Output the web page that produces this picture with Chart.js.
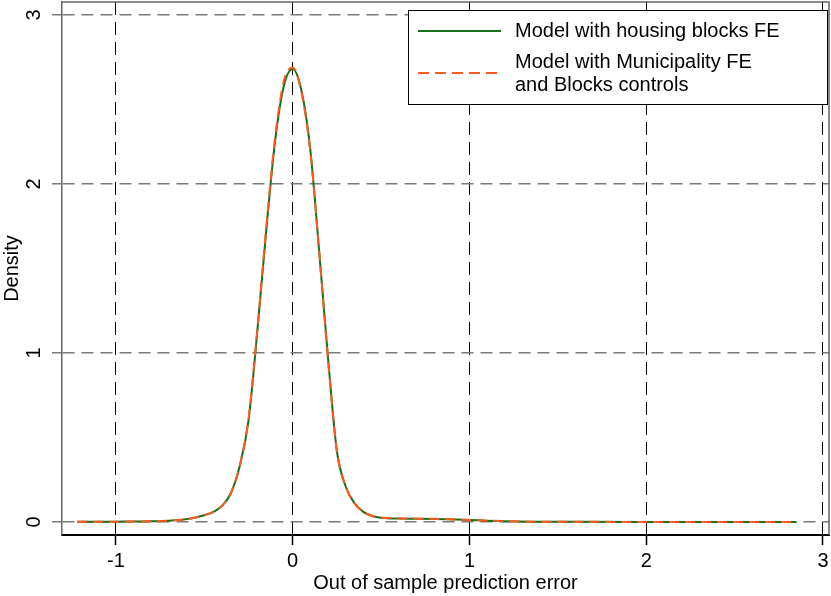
<!DOCTYPE html>
<html>
<head>
<meta charset="utf-8">
<script src="https://cdn.jsdelivr.net/npm/chart.js@4.4.1/dist/chart.umd.min.js"></script>
<style>
  html, body { margin: 0; padding: 0; background: #fff; }
</style>
</head>
<body>
<canvas id="density" width="831" height="596"></canvas>
<script>
// prediction error grid (x) and kernel density estimates
var errorGrid = [-1.22, -1.0, -0.8, -0.7, -0.6, -0.5, -0.45, -0.4, -0.35, -0.3, -0.25, -0.2, -0.15, -0.1, -0.05, 0, 0.05, 0.1, 0.15, 0.2, 0.25, 0.3, 0.35, 0.4, 0.45, 0.5, 0.6, 0.8, 1.0, 1.1, 1.2, 1.35, 1.6, 2.0, 2.5, 2.85];
var housingFE = [0.001, 0.002, 0.004, 0.008, 0.017, 0.04, 0.058, 0.095, 0.17, 0.33, 0.6, 1.13, 1.72, 2.25, 2.58, 2.68, 2.55, 2.2, 1.6, 0.97, 0.42, 0.21, 0.11, 0.06, 0.035, 0.025, 0.02, 0.018, 0.012, 0.008, 0.005, 0.002, 0.001, 0.0005, 0.0003, 0.0002];
var municipalityFE = [0.001, 0.002, 0.004, 0.008, 0.016, 0.04, 0.058, 0.096, 0.17, 0.33, 0.61, 1.14, 1.74, 2.27, 2.61, 2.69, 2.54, 2.19, 1.6, 0.96, 0.42, 0.21, 0.11, 0.06, 0.035, 0.026, 0.021, 0.019, 0.012, 0.008, 0.005, 0.002, 0.001, 0.0005, 0.0003, 0.0002];
var seriesNames = ['Model with housing blocks FE', 'Model with Municipality FE and Blocks controls'];
var legendLines = [['Model with housing blocks FE'], ['Model with Municipality FE', 'and Blocks controls']];
var xTicks = [-1, 0, 1, 2, 3];
var yTicks = [0, 1, 2, 3];

var FONT = "'Liberation Sans', Arial, sans-serif";
var GREEN = '#1b6e1b';
var ORANGE = '#ff5a1f';

function toPoints(ys) {
  return errorGrid.map(function (x, i) { return { x: x, y: ys[i] }; });
}

var stataFrame = {
  id: 'stataFrame',
  afterDraw: function (chart) {
    var a = chart.chartArea;
    var ctx = chart.ctx;
    ctx.save();
    // top and right frame lines
    ctx.strokeStyle = '#666';
    ctx.lineWidth = 1.5;
    ctx.beginPath();
    ctx.moveTo(a.left, a.top);
    ctx.lineTo(a.right, a.top);
    ctx.lineTo(a.right, a.bottom);
    ctx.stroke();

    // legend box
    var bx = a.right - 421, by = a.top + 8, bw = 419, bh = 94;
    ctx.fillStyle = '#fff';
    ctx.fillRect(bx, by, bw, bh);
    ctx.strokeStyle = '#000';
    ctx.lineWidth = 1;
    ctx.strokeRect(bx + 0.5, by + 0.5, bw, bh);

    ctx.font = '20px ' + FONT;
    ctx.textBaseline = 'middle';
    ctx.fillStyle = '#000';
    var rowY = [by + 21, by + 52];
    var styles = [{ c: GREEN, d: [] }, { c: ORANGE, d: [11, 6] }];
    legendLines.forEach(function (lines, i) {
      var cy = lines.length > 1 ? rowY[i] + 11 : rowY[i];
      ctx.strokeStyle = styles[i].c;
      ctx.lineWidth = 2;
      ctx.setLineDash(styles[i].d);
      ctx.beginPath();
      ctx.moveTo(bx + 10, cy);
      ctx.lineTo(bx + 93, cy);
      ctx.stroke();
      ctx.setLineDash([]);
      lines.forEach(function (t, j) {
        ctx.fillText(t, bx + 107, rowY[i] + j * 23);
      });
    });
    ctx.restore();
  }
};

new Chart(document.getElementById('density'), {
  type: 'line',
  data: {
    datasets: [
      {
        label: seriesNames[0],
        data: toPoints(housingFE),
        borderColor: GREEN,
        borderWidth: 2,
        pointRadius: 0,
        cubicInterpolationMode: 'monotone',
        order: 1
      },
      {
        label: seriesNames[1],
        data: toPoints(municipalityFE),
        borderColor: ORANGE,
        borderWidth: 2,
        borderDash: [10, 6],
        pointRadius: 0,
        cubicInterpolationMode: 'monotone',
        order: 0
      }
    ]
  },
  options: {
    responsive: false,
    animation: false,
    devicePixelRatio: 1,
    layout: { padding: { top: 2, right: 2, left: 0, bottom: 0 } },
    plugins: {
      legend: { display: false },
      tooltip: { enabled: false }
    },
    scales: {
      x: {
        type: 'linear',
        min: -1.305,
        max: 3.034,
        afterBuildTicks: function (s) { s.ticks = xTicks.map(function (v) { return { value: v }; }); },
        afterFit: function (s) { s.height = 61; s.paddingLeft = 0; s.paddingRight = 0; },
        grid: {
          color: '#000',
          lineWidth: 1,
          tickLength: 10,
          tickColor: '#000',
          tickBorderDash: [],
          tickWidth: 1.5
        },
        border: { color: '#000', width: 2, dash: [13, 7] },
        ticks: {
          font: { family: FONT, size: 20 },
          color: '#000',
          padding: 4,
          maxRotation: 0
        },
        title: {
          display: true,
          text: 'Out of sample prediction error',
          font: { family: FONT, size: 20 },
          color: '#000',
          padding: { top: 0, bottom: 1 }
        }
      },
      y: {
        type: 'linear',
        min: -0.077,
        max: 3.077,
        afterBuildTicks: function (s) { s.ticks = yTicks.map(function (v) { return { value: v }; }); },
        afterFit: function (s) { s.width = 62; s.paddingTop = 0; s.paddingBottom = 0; },
        grid: {
          color: '#7a7a7a',
          lineWidth: 1.5,
          tickLength: 10,
          tickColor: '#7a7a7a',
          tickBorderDash: [12, 7],
          tickWidth: 1.5
        },
        border: { color: '#666', width: 1.5, dash: [12, 7] },
        ticks: {
          font: { family: FONT, size: 20 },
          color: '#000',
          padding: 12,
          minRotation: 90,
          maxRotation: 90,
          crossAlign: 'center'
        },
        title: {
          display: true,
          text: 'Density',
          font: { family: FONT, size: 20 },
          color: '#000',
          padding: 0
        }
      }
    }
  },
  plugins: [stataFrame]
});
</script>
</body>
</html>
